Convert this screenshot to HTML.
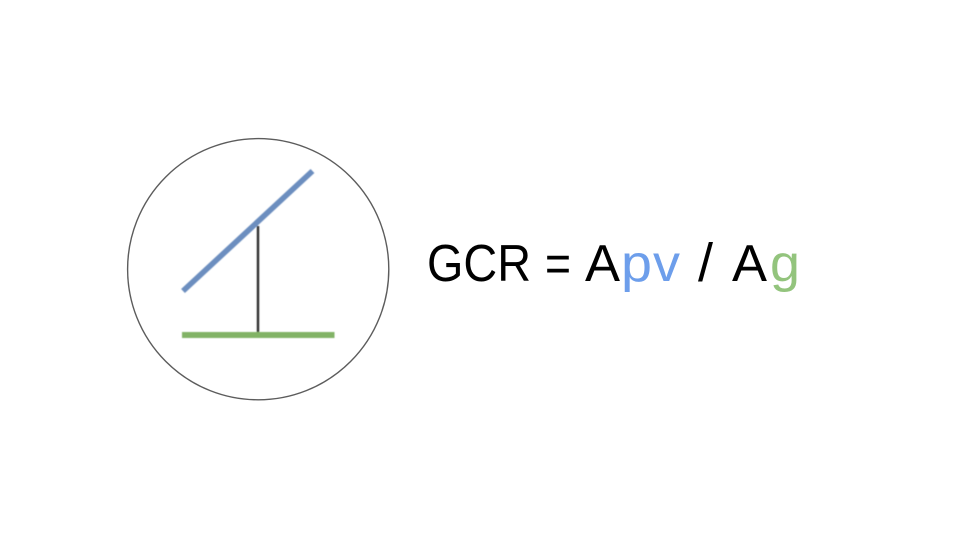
<!DOCTYPE html>
<html lang="en">
<head>
<meta charset="utf-8">
<title>GCR diagram</title>
<style>
html,body{margin:0;padding:0;background:#fff;width:960px;height:540px;overflow:hidden}
svg{display:block}
text{font-family:"Liberation Sans","DejaVu Sans",sans-serif;font-size:52px}
</style>
</head>
<body>
<svg width="960" height="540" viewBox="0 0 960 540">
  <defs>
    <filter id="soften" x="-10%" y="-10%" width="120%" height="120%">
      <feGaussianBlur stdDeviation="0.5"/>
    </filter>
  </defs>
  <rect width="960" height="540" fill="#fff"/>
  <circle cx="258.2" cy="269.2" r="130.6" fill="none" stroke="#5c5c5c" stroke-width="1.4"/>
  <g filter="url(#soften)">
    <line x1="258" y1="226" x2="258" y2="332" stroke="#2e2e2e" stroke-width="2.4"/>
    <line x1="183" y1="291" x2="312.5" y2="171" stroke="#6c8ebf" stroke-width="5.6"/>
    <rect x="182" y="332" width="152.5" height="6" fill="#82b366"/>
  </g>
  <g>
    <text x="427" y="281" textLength="104" lengthAdjust="spacingAndGlyphs" fill="#000">GCR</text>
    <text x="545" y="281" textLength="26" lengthAdjust="spacingAndGlyphs" fill="#000">=</text>
    <text x="585" y="281" textLength="35" lengthAdjust="spacingAndGlyphs" fill="#000">A</text>
    <text x="621" y="281" textLength="31" lengthAdjust="spacingAndGlyphs" fill="#6d9eeb">p</text>
    <text x="653" y="281" textLength="27" lengthAdjust="spacingAndGlyphs" fill="#6d9eeb">v</text>
    <text x="698" y="281" style="font-size:54px" fill="#000">/</text>
    <text x="732" y="281" textLength="35" lengthAdjust="spacingAndGlyphs" fill="#000">A</text>
    <text x="770" y="281" textLength="30" lengthAdjust="spacingAndGlyphs" fill="#93c47d">g</text>
  </g>
</svg>
</body>
</html>
